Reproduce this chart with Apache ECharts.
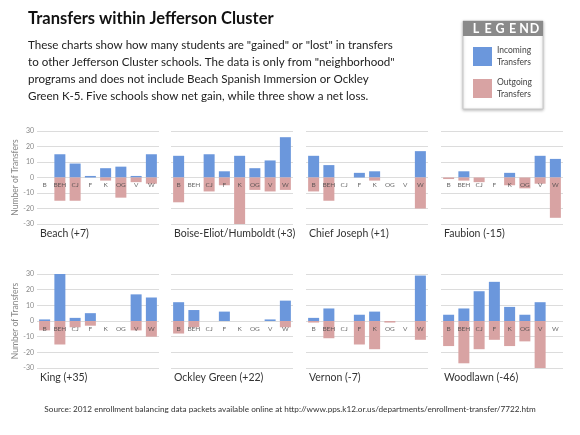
<!DOCTYPE html>
<html><head><meta charset="utf-8">
<script src="https://cdn.jsdelivr.net/npm/echarts@6/dist/echarts.min.js"></script>
<style>html,body{margin:0;padding:0;background:#fff}#c{width:580px;height:435px}</style>
</head><body><div id="c"></div>
<script>
const categories = ['B','BEH','CJ','F','K','OG','V','W'];
const yTicks = [-30, 30, 10]; // min, max, interval
const schools = ['Beach (+7)','Boise-Eliot/Humboldt (+3)','Chief Joseph (+1)','Faubion (-15)','King (+35)','Ockley Green (+22)','Vernon (-7)','Woodlawn (-46)'];
const beachIn = [0,15,9,1,6,7,1,15];
const beachOut = [0,-15,-15,0,-2,-13,-3,-4];
const boiseIn = [14,0,15,4,14,6,11,26];
const boiseOut = [-16,0,-9,-5,-30,-8,-9,-8];
const chiefIn = [14,8,0,3,4,0,0,17];
const chiefOut = [-9,-15,0,0,-2,0,0,-20];
const faubionIn = [0,4,0,0,3,0,14,12];
const faubionOut = [-1,-2,-3,0,-5,-7,-4,-26];
const kingIn = [1,30,2,5,0,0,17,15];
const kingOut = [-6,-15,-4,-3,0,0,-6,-10];
const ockleyIn = [12,7,0,6,0,0,1,13];
const ockleyOut = [-8,-4,0,0,0,0,0,-4];
const vernonIn = [2,8,0,4,6,0,0,29];
const vernonOut = [-1,-11,0,-15,-18,-1,0,-12];
const woodlawnIn = [4,8,19,25,9,4,12,0];
const woodlawnOut = [-16,-27,-18,-12,-16,-13,-30,0];

const incoming = [beachIn, boiseIn, chiefIn, faubionIn, kingIn, ockleyIn, vernonIn, woodlawnIn];
const outgoing = [beachOut, boiseOut, chiefOut, faubionOut, kingOut, ockleyOut, vernonOut, woodlawnOut];

const FONT = 'Lato, "Open Sans", sans-serif';
const BLUE = '#6b97dc', PINK = '#d8a3a3';
const lefts = [37, 171, 306, 441];
const tops = [131, 274];
const heights = [93, 94];
const titleTops = [223, 367];

const grids = [], xAxes = [], yAxes = [], series = [], titles = [];
titles.push({text:'Transfers within Jefferson Cluster', left:23, top:5,
  textStyle:{fontFamily:FONT, fontSize:16.5, fontWeight:'bold', color:'#111'}});
titles.push({text:'These charts show how many students are "gained" or "lost" in transfers\nto other Jefferson Cluster schools. The data is only from "neighborhood"\nprograms and does not include Beach Spanish Immersion or Ockley\nGreen K-5. Five schools show net gain, while three show a net loss.',
  left:23, top:32, textStyle:{fontFamily:FONT, fontSize:11.6, fontWeight:'normal', color:'#222', lineHeight:17}});
titles.push({text:'Source: 2012 enrollment balancing data packets available online at http://www.pps.k12.or.us/departments/enrollment-transfer/7722.htm',
  left:'center', top:400, textStyle:{fontFamily:FONT, fontSize:8.2, fontWeight:'normal', color:'#333'}});

const zeros = categories.map(() => 0);
for (let i = 0; i < 8; i++) {
  const r = Math.floor(i / 4), c = i % 4;
  grids.push({left: lefts[c], top: tops[r], width: 122, height: heights[r]});
  xAxes.push({type:'category', gridIndex:i, data:categories,
    axisLine:{show:false}, axisTick:{show:false}, axisLabel:{show:false}, splitLine:{show:false}});
  yAxes.push({type:'value', gridIndex:i, min:yTicks[0], max:yTicks[1], interval:yTicks[2],
    name: c === 0 ? 'Number of Transfers' : '', nameLocation:'middle', nameGap:16,
    nameTextStyle:{fontSize:8.5, color:'#888', fontFamily:FONT},
    axisLine:{show:false}, axisTick:{show:false},
    axisLabel:{show: c === 0, fontSize:7, color:'#888', margin:3, fontFamily:FONT},
    splitLine:{lineStyle:{color:'#dcdcdc', width:1}}});
  series.push({name:'Incoming', type:'bar', xAxisIndex:i, yAxisIndex:i, data:incoming[i],
    barWidth:11, itemStyle:{color:BLUE}, silent:true});
  series.push({name:'Outgoing', type:'bar', xAxisIndex:i, yAxisIndex:i, data:outgoing[i],
    barWidth:11, barGap:'-100%', itemStyle:{color:PINK}, silent:true});
  series.push({name:'cat', type:'scatter', xAxisIndex:i, yAxisIndex:i, data:zeros,
    symbolSize:0, z:10, silent:true,
    label:{show:true, position:'bottom', distance:4, formatter: p => categories[p.dataIndex],
      fontSize:6.5, color:'#444', fontFamily:FONT}});
  titles.push({text:schools[i], left: lefts[c] - 2, top: titleTops[r],
    textStyle:{fontFamily:FONT, fontSize:10.5, fontWeight:'normal', color:'#333'}});
}

const letters = ['L','E','G','E','N','D'];
const letterX = [476, 488, 500, 512.5, 524, 534.5];
const graphics = [
  {type:'rect', shape:{x:463, y:21, width:80, height:88}, style:{fill:'#fff', stroke:'#c8c8c8', lineWidth:1, shadowBlur:3, shadowColor:'rgba(0,0,0,0.25)', shadowOffsetY:1}, z:0},
  {type:'rect', shape:{x:463, y:21, width:80, height:15}, style:{fill:'#8a8a8a'}, z:1}
];
letters.forEach((ch, k) => graphics.push({type:'text', x:letterX[k], y:28.5, z:2,
  style:{text:ch, fill:'#fff', font:'bold 12.5px ' + FONT, textAlign:'center', textVerticalAlign:'middle'}}));

const option = {
  backgroundColor:'#fff',
  animation:false,
  title: titles,
  grid: grids, xAxis: xAxes, yAxis: yAxes, series: series,
  legend: {data:['Incoming','Outgoing'], orient:'vertical', left:473, top:44.5, padding:0,
    itemWidth:19, itemHeight:19, itemGap:8, icon:'rect', z:5,
    formatter: n => n + '\nTransfers',
    textStyle:{fontSize:8.5, color:'#444', lineHeight:12, fontFamily:FONT}},
  graphic: graphics
};
const chart = echarts.init(document.getElementById('c'));
chart.setOption(option);
</script></body></html>
